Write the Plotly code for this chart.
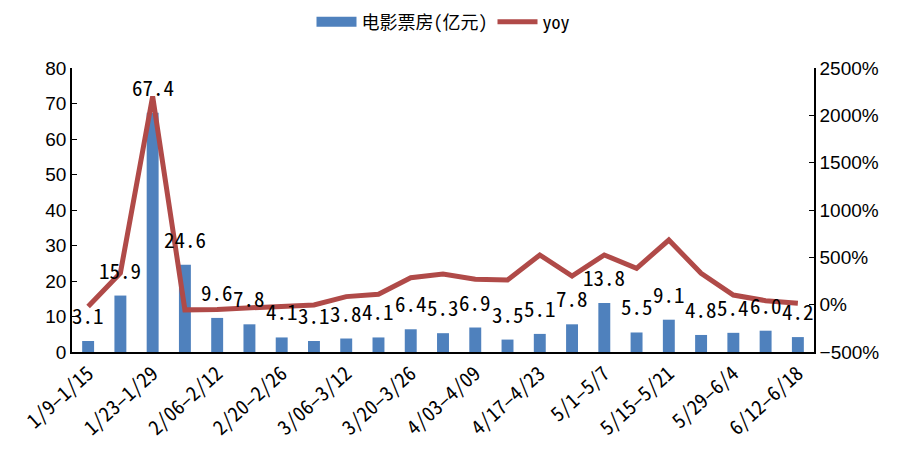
import plotly.graph_objects as go

categories = ["1/9-1/15", "1/16-1/22", "1/23-1/29", "1/30-2/05", "2/06-2/12", "2/13-2/19",
              "2/20-2/26", "2/27-3/05", "3/06-3/12", "3/13-3/19", "3/20-3/26", "3/27-4/02",
              "4/03-4/09", "4/10-4/16", "4/17-4/23", "4/24-4/30", "5/1-5/7", "5/8-5/14",
              "5/15-5/21", "5/22-5/28", "5/29-6/4", "6/5-6/11", "6/12-6/18"]
box_office = [3.1, 15.9, 67.4, 24.6, 9.6, 7.8, 4.1, 3.1, 3.8, 4.1, 6.4, 5.3,
              6.9, 3.5, 5.1, 7.8, 13.8, 5.5, 9.1, 4.8, 5.4, 6.0, 4.2]
yoy = [-20, 335, 2200, -55, -50, -38, -14, -3, 85, 110, 285, 324,
       268, 261, 525, 303, 525, 384, 683, 331, 102, 42, 15]
shown_ticks = categories[::2]
shown_text = [t.replace("-", "\u2013") for t in shown_ticks]

bar_color = "#4F81BD"
line_color = "#B04A48"
latin = "Liberation Sans, Arial"
mono = "Noto Sans Mono CJK SC, Noto Sans CJK SC"

fig = go.Figure()
fig.add_trace(go.Bar(x=categories, y=box_office, name="电影票房(亿元)",
                     marker=dict(color=bar_color, line=dict(width=0)), width=0.37,
                     yaxis="y", showlegend=False))
# legend proxy (wide rectangle like the reference)
fig.add_trace(go.Scatter(x=[None], y=[None], name="电影票房(亿元)", mode="lines",
                         line=dict(color=bar_color, width=11), yaxis="y"))
fig.add_trace(go.Scatter(x=categories, y=yoy, name="yoy", mode="lines",
                         line=dict(color=line_color, width=5), yaxis="y2"))

for c, v in zip(categories, box_office):
    fig.add_annotation(x=c, y=v, xref="x", yref="y", text=f"{v:.1f}", showarrow=False,
                       yshift=26, font=dict(family=mono, size=21, color="#000"))

fig.update_layout(
    width=906, height=457,
    margin=dict(l=59, r=100, t=60, b=113),
    plot_bgcolor="white", paper_bgcolor="white",
    showlegend=True,
    legend=dict(orientation="h", x=0.5, xanchor="center", y=1 - 14 / 457, yanchor="middle",
                yref="container", font=dict(family=mono, size=18, color="#000"),
                tracegroupgap=0, itemwidth=40),
    xaxis=dict(type="category", tickmode="array", tickvals=shown_ticks, ticktext=shown_text,
               tickangle=-42, tickfont=dict(family=mono, size=20, color="#000"),
               showline=True, linecolor="#000", linewidth=2, showgrid=False,
               ticks="", range=[-0.5, len(categories) - 0.5]),
    yaxis=dict(range=[0, 80], dtick=10, showline=True, linecolor="#000", linewidth=1.5,
               ticks="inside", ticklen=5, tickcolor="#000", showgrid=False, zeroline=False,
               tickfont=dict(family=latin, size=19, color="#000")),
    yaxis2=dict(range=[-500, 2500], dtick=500, overlaying="y", side="right",
                ticksuffix="%", showline=True, linecolor="#000", linewidth=1.5,
                ticks="inside", ticklen=5, tickcolor="#000", showgrid=False, zeroline=False,
                tickfont=dict(family=latin, size=19, color="#000")),
)

fig.write_html("out.html")
